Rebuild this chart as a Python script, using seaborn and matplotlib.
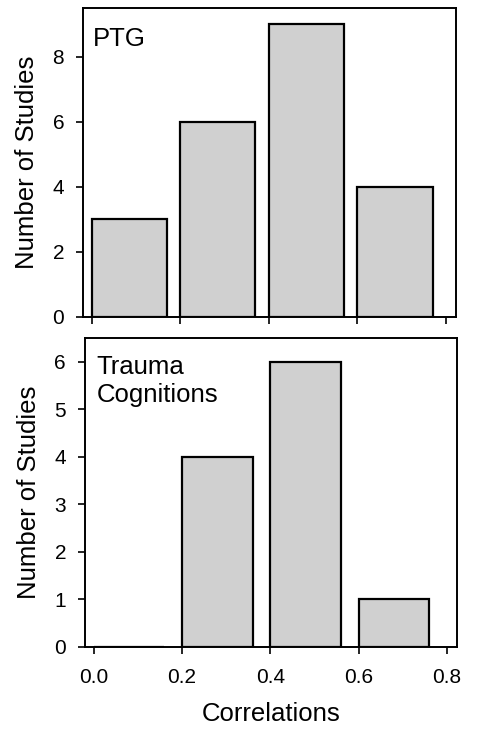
import matplotlib
matplotlib.use("Agg")
import matplotlib.pyplot as plt
import seaborn as sns

# bin edges and counts
bin_edges = [0.0, 0.2, 0.4, 0.6, 0.8]
bin_mids = [0.1, 0.3, 0.5, 0.7]
ptg_counts = [3, 6, 9, 4]
trauma_counts = [0, 4, 6, 1]

sns.set_style("ticks")
plt.rcParams["font.family"] = ["Liberation Sans", "DejaVu Sans"]
plt.rcParams["text.color"] = "black"
plt.rcParams["axes.labelcolor"] = "black"

fig = plt.figure(figsize=(4.82, 7.3), dpi=100)
ax1 = fig.add_axes([0.172, 0.566, 0.774, 0.423])
ax2 = fig.add_axes([0.176, 0.114, 0.772, 0.423])

panels = [
    (ax1, ptg_counts, 0.85, (0, 9.5), [0, 2, 4, 6, 8], "PTG", 0.027, 0.94),
    (ax2, trauma_counts, 0.80, (0, 6.5), [0, 1, 2, 3, 4, 5, 6],
     "Trauma\nCognitions", 0.032, 0.945),
]

for ax, counts, frac, ylim, yticks, label, tx, ty in panels:
    sns.histplot(x=bin_mids, weights=counts, bins=bin_edges, ax=ax,
                 color="#d0d0d0", alpha=1, edgecolor="black", linewidth=1.6)
    # bars in the original start at the bin's left edge and leave a gap
    for p in ax.patches:
        p.set_width(p.get_width() * frac)
    ax.set_xlim(-0.02, 0.823)
    ax.set_ylim(*ylim)
    ax.set_yticks(yticks)
    ax.set_xticks([0.0, 0.2, 0.4, 0.6, 0.8])
    for s in ax.spines.values():
        s.set_visible(True)
        s.set_linewidth(1.4)
        s.set_color("black")
    ax.tick_params(direction="out", length=5, width=1.2, labelsize=15, colors="black")
    ax.tick_params(axis="x", pad=10)
    ax.tick_params(axis="y", pad=8.5)
    ax.set_ylabel("Number of Studies", fontsize=18.5)
    ax.text(tx, ty, label, transform=ax.transAxes, fontsize=18.5,
            va="top", ha="left", linespacing=1.2)

ax1.set_xticklabels([])
ax1.set_xlabel("")
ax2.set_xticklabels(["0.0", "0.2", "0.4", "0.6", "0.8"])
ax2.set_xlabel("Correlations", fontsize=18.5, labelpad=11)
ax1.yaxis.set_label_coords(-0.118, 0.5)
ax2.yaxis.set_label_coords(-0.118, 0.5)

fig.savefig("out.png", dpi=100)
